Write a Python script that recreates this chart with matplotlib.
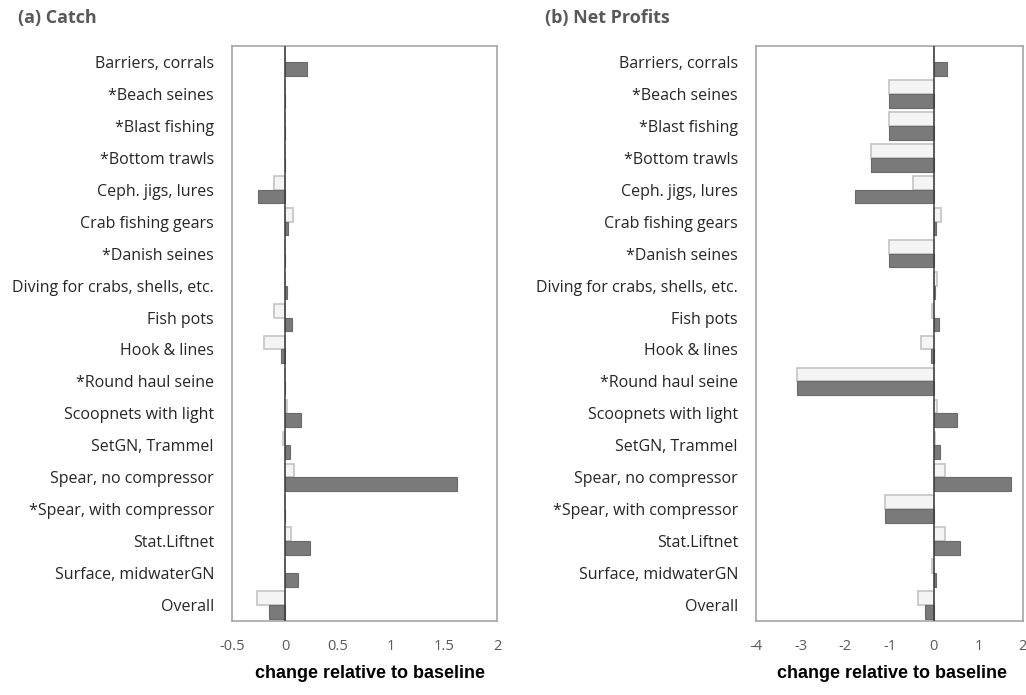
import matplotlib
matplotlib.use("Agg")
import matplotlib.pyplot as plt
import numpy as np

# ── Data ──────────────────────────────────────────────────────────────────────
gears = [
    "Barriers, corrals", "*Beach seines", "*Blast fishing", "*Bottom trawls",
    "Ceph. jigs, lures", "Crab fishing gears", "*Danish seines",
    "Diving for crabs, shells, etc.", "Fish pots", "Hook & lines",
    "*Round haul seine", "Scoopnets with light", "SetGN, Trammel",
    "Spear, no compressor", "*Spear, with compressor", "Stat.Liftnet",
    "Surface, midwaterGN", "Overall",
]

catch_light = [0.0, 0.0, 0.0, 0.0, -0.10, 0.08, 0.0, 0.0, -0.10, -0.20,
               0.0, 0.02, -0.02, 0.087, 0.0, 0.058, 0.0, -0.26]
catch_dark = [0.21, 0.0, 0.0, 0.0, -0.25, 0.025, 0.0, 0.015, 0.064, -0.04,
              0.0, 0.147, 0.045, 1.62, 0.0, 0.235, 0.12, -0.15]

profit_light = [0.0, -1.02, -1.01, -1.41, -0.46, 0.16, -1.02, 0.075, -0.04, -0.29,
                -3.08, 0.07, 0.03, 0.25, -1.10, 0.25, -0.04, -0.35]
profit_dark = [0.30, -1.02, -1.02, -1.41, -1.78, 0.05, -1.02, 0.02, 0.11, -0.06,
               -3.08, 0.52, 0.135, 1.74, -1.11, 0.59, 0.04, -0.19]

catch_ticks = [-0.5, 0, 0.5, 1, 1.5, 2]
profit_ticks = [-4, -3, -2, -1, 0, 1, 2]

# ── Style ─────────────────────────────────────────────────────────────────────
LIGHT_FACE = "#f4f4f4"
LIGHT_EDGE = "#c4c4c4"
DARK_FACE = "#7a7a7a"
DARK_EDGE = "#6a6a6a"
SPINE = "#a6a6a6"
ZERO = "#3a3a3a"
TICK = "#595959"
LABEL = "#262626"
TITLE = "#595959"

FONT = "Open Sans"

fig = plt.figure(figsize=(10.26, 6.95), dpi=100, facecolor="white")
ax_a = fig.add_axes([0.2261, 0.1065, 0.2583, 0.8273])
ax_b = fig.add_axes([0.7368, 0.1065, 0.2602, 0.8273])

y = np.arange(len(gears))
h = 0.43


def draw_panel(ax, light, dark, ticks, xlim):
    ax.barh(y - h / 2, light, height=h, color=LIGHT_FACE,
            edgecolor=LIGHT_EDGE, linewidth=1.2, zorder=2)
    ax.barh(y + h / 2, dark, height=h, color=DARK_FACE,
            edgecolor=DARK_EDGE, linewidth=0.8, zorder=2)
    ax.axvline(0, color=ZERO, linewidth=1.1, zorder=3)
    ax.set_xlim(*xlim)
    ax.set_ylim(len(gears) - 0.5, -0.5)
    ax.set_yticks(y)
    ax.set_yticklabels(gears, fontsize=11.5, color=LABEL, family=FONT)
    ax.set_xticks(ticks)
    ax.set_xticklabels([f"{t:g}" for t in ticks],
                       fontsize=10.5, color=TICK, family=FONT)
    ax.tick_params(axis="y", length=0, pad=13)
    ax.tick_params(axis="x", length=0, pad=13)
    for spine in ax.spines.values():
        spine.set_edgecolor(SPINE)
        spine.set_linewidth(1.2)


draw_panel(ax_a, catch_light, catch_dark, catch_ticks, (-0.5, 2))
draw_panel(ax_b, profit_light, profit_dark, profit_ticks, (-4, 2))

# Panel headers
fig.text(18 / 1026, 1 - 18 / 695, "(a) Catch", fontsize=13, fontweight="bold",
         color=TITLE, family=FONT, va="center", ha="left")
fig.text(545 / 1026, 1 - 18 / 695, "(b) Net Profits", fontsize=13,
         fontweight="bold", color=TITLE, family=FONT, va="center", ha="left")

# Axis captions
for xc in (370 / 1026, 892 / 1026):
    fig.text(xc, 1 - 673 / 695, "change relative to baseline", fontsize=13,
             fontweight="bold", color="black", family="Liberation Sans",
             ha="center", va="center")

fig.savefig("out.png", dpi=100, facecolor="white")
plt.close(fig)
